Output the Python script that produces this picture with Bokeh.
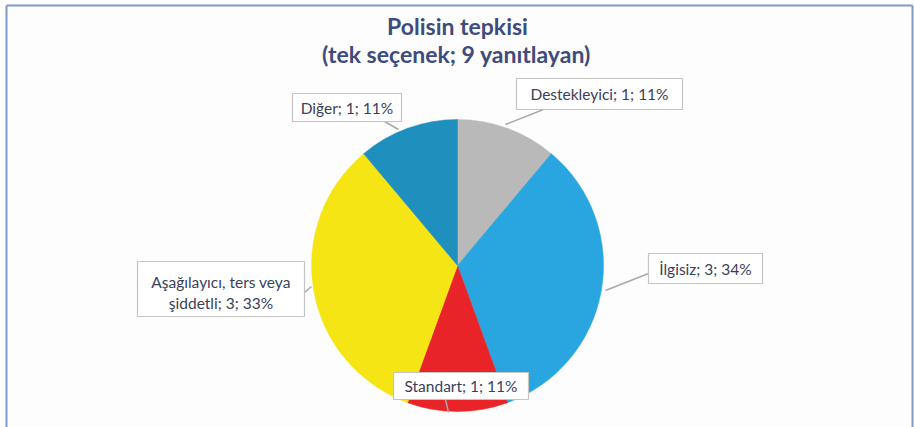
import math
from bokeh.plotting import figure
from bokeh.models import Range1d, ColumnDataSource
from bokeh.core.properties import value
from bokeh.embed import file_html
from bokeh.resources import INLINE

# ---- data ----
categories = ["Destekleyici", "İlgisiz", "Standart", "Aşağılayıcı, ters veya şiddetli", "Diğer"]
counts = [1, 3, 1, 3, 1]
percents = [11, 34, 11, 33, 11]
colors = ["#b9b9b9", "#29a6df", "#e92428", "#f6e514", "#1f8fbd"]
title_lines = ["Polisin tepkisi", "(tek seçenek; 9 yanıtlayan)"]

W, H = 914, 427


def Y(v):
    return H - v


p = figure(width=W, height=H, output_backend="svg", toolbar_location=None,
           x_range=Range1d(0, W), y_range=Range1d(0, H),
           min_border=0, outline_line_color=None, background_fill_color="#fdfdfd",
           border_fill_color="#fdfdfd")
p.axis.visible = False
p.grid.visible = False

# frame lines (top, left, right)
fc = "#7f9cc4"
p.line([6, 912], [Y(5), Y(5)], line_color=fc, line_width=2)
p.line([6, 6], [Y(5), Y(H)], line_color=fc, line_width=2)
p.line([912, 912], [Y(5), Y(H)], line_color=fc, line_width=2)

# pie
cx, cy, r = 457, Y(265), 146
total = sum(counts)
starts, ends = [], []
cum = 0
for c in counts:
    starts.append(math.pi / 2 - 2 * math.pi * cum / total)
    cum += c
    ends.append(math.pi / 2 - 2 * math.pi * cum / total)
src = ColumnDataSource(dict(start=starts, end=ends, color=colors))
p.wedge(x=cx, y=cy, radius=r, start_angle="start", end_angle="end", direction="clock",
        fill_color="color", line_color="color", line_width=0.5, source=src)

# title
tcol = "#3d4c7c"
p.text(x=[457, 456], y=[Y(25), Y(53)], text=title_lines, text_font=value("Lato"),
       text_font_style="bold", text_font_size="23px", text_color=tcol,
       text_align="center", text_baseline="middle")

# labels
lab_text = [f"{categories[i]}; {counts[i]}; {percents[i]}%" for i in range(len(categories))]
boxes = [  # left, right, top, bottom (window px)
    (516, 682, 78, 109),
    (648, 762, 253, 283),
    (393, 528, 372, 399),
    (137, 304, 261, 316),
    (292, 401, 93, 121),
]
leaders = [
    ((543, 109), (505, 124)),
    ((648, 273), (605, 290)),
    ((445, 399), (448, 412)),
    ((304, 292), (311, 286)),
    ((384, 121), (398, 129)),
]
lc = "#a9a9a9"
for (a, b) in leaders:
    p.line([a[0], b[0]], [Y(a[1]), Y(b[1])], line_color=lc, line_width=1.5)

p.quad(left=[b[0] for b in boxes], right=[b[1] for b in boxes],
       top=[Y(b[2]) for b in boxes], bottom=[Y(b[3]) for b in boxes],
       fill_color="white", line_color="#c4c4c4", line_width=1.2)

txt_col = "#3a3f5a"
fs = "15.5px"
single = [0, 1, 2, 4]
p.text(x=[(boxes[i][0] + boxes[i][1]) / 2 for i in single],
       y=[Y((boxes[i][2] + boxes[i][3]) / 2) for i in single],
       text=[lab_text[i] for i in single], text_font=value("Lato"), text_font_size=fs,
       text_color=txt_col, text_align="center", text_baseline="middle")
# two-line label
parts = ["Aşağılayıcı, ters veya", f"şiddetli; {counts[3]}; {percents[3]}%"]
bx = (boxes[3][0] + boxes[3][1]) / 2
p.text(x=[bx, bx], y=[Y(281), Y(302)], text=parts, text_font=value("Lato"),
       text_font_size=fs, text_color=txt_col, text_align="center", text_baseline="middle")

open("out.html", "w").write(file_html(p, INLINE))
